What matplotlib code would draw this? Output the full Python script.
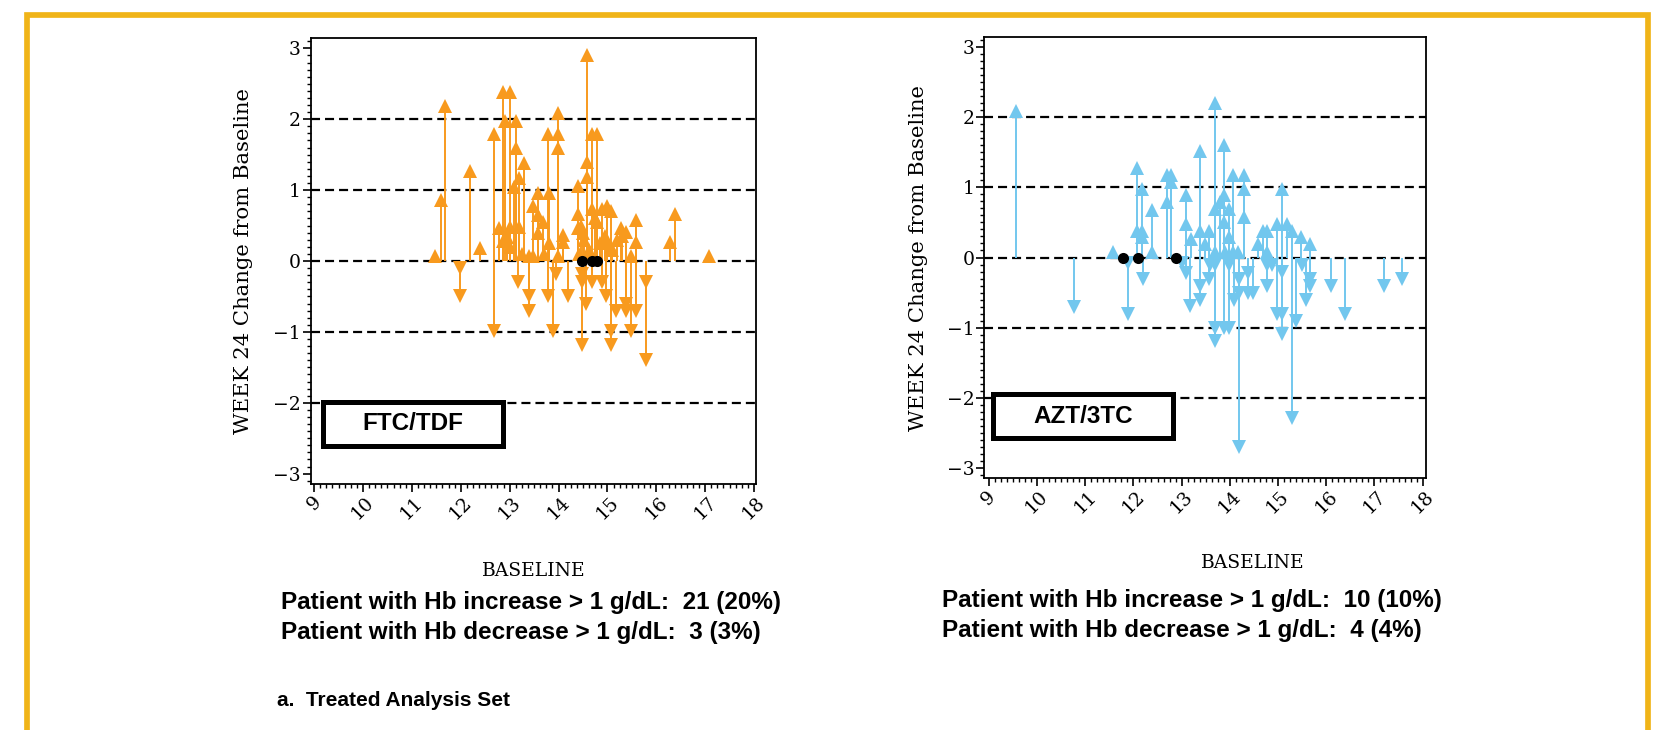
import matplotlib
matplotlib.use("Agg")
import matplotlib.pyplot as plt
from matplotlib.patches import Rectangle
from matplotlib.ticker import MultipleLocator
import numpy as np

plt.rcParams['lines.scale_dashes'] = False

# ---------------- data ----------------
ftc_base = [11.48, 11.59, 11.67, 12.18, 12.40, 12.69, 12.78, 12.86, 13.00, 12.90, 13.12, 13.12, 13.30, 13.19,
            13.09, 12.86, 13.00, 13.00, 13.20, 12.95, 13.39, 13.48, 13.48, 13.58, 13.58, 13.68, 13.58, 13.80,
            13.78, 13.99, 13.99, 13.99, 13.80, 13.99, 14.09, 14.09, 14.39, 14.39, 14.39, 14.50, 14.59, 14.59,
            14.59, 14.69, 14.78, 14.69, 14.88, 14.99, 15.07, 14.78, 14.99, 15.07, 15.28, 15.38, 15.59, 15.59,
            15.48, 16.28, 16.38, 17.08, 14.45, 14.52, 14.62, 14.75, 14.85, 14.95, 15.10, 15.20, 15.30, 14.42,
            13.25, 13.70,
            11.99, 11.99, 12.67, 13.18, 13.39, 13.39, 13.78, 13.88, 13.95, 14.19, 14.48, 14.48, 14.48, 14.56,
            14.69, 14.88, 14.97, 15.07, 15.07, 15.18, 15.38, 15.38, 15.48, 15.59, 15.78, 15.78,
            14.48, 14.68, 14.78]
ftc_chg = [0.07, 0.86, 2.19, 1.27, 0.18, 1.79, 0.46, 2.38, 2.38, 1.98, 1.98, 1.59, 1.38, 1.17,
           1.05, 0.28, 0.48, 0.20, 0.48, 0.34, 0.07, 0.07, 0.77, 0.96, 0.65, 0.55, 0.39, 0.96,
           1.79, 1.79, 2.09, 1.59, 0.26, 0.07, 0.36, 0.27, 1.06, 0.66, 0.46, 0.39, 2.90, 1.39,
           1.18, 1.79, 1.79, 0.74, 0.74, 0.77, 0.70, 0.55, 0.27, 0.20, 0.46, 0.41, 0.58, 0.27,
           0.07, 0.27, 0.67, 0.07, 0.50, 0.30, 0.15, 0.60, 0.25, 0.35, 0.15, 0.30, 0.35, 0.10,
           0.10, 0.10,
           -0.10, -0.50, -0.99, -0.30, -0.50, -0.70, -0.50, -0.99, -0.18, -0.50, -0.18, -0.30, -1.19, -0.60,
           -0.30, -0.30, -0.50, -0.99, -1.19, -0.70, -0.60, -0.70, -0.99, -0.70, -0.30, -1.39,
           0.0, 0.0, 0.0]

azt_base = [9.57, 11.57, 12.08, 12.08, 12.18, 12.18, 12.18, 12.39, 12.39, 12.69, 12.78, 12.78, 12.69, 13.10,
            13.10, 13.19, 13.38, 13.38, 13.48, 13.57, 13.70, 13.88, 13.70, 13.79, 13.88, 13.88, 13.98, 13.98,
            13.70, 14.07, 14.29, 14.29, 14.29, 14.18, 14.07, 14.59, 14.68, 14.78, 14.78, 15.09, 14.98, 15.19,
            15.28, 15.47, 15.67, 13.90,
            10.77, 11.89, 11.89, 12.19, 13.00, 13.09, 13.17, 13.38, 13.38, 13.57, 13.69, 13.69, 13.69, 13.88,
            13.98, 14.09, 14.19, 14.19, 14.19, 14.38, 14.38, 14.48, 14.78, 14.78, 14.88, 14.98, 15.09, 15.09,
            15.09, 15.28, 15.38, 15.49, 15.59, 15.67, 15.67, 16.09, 16.39, 17.19, 17.58, 13.98, 13.59,
            11.79, 12.10, 12.89]
azt_chg = [2.09, 0.08, 1.28, 0.38, 0.98, 0.38, 0.29, 0.67, 0.08, 1.17, 1.17, 1.08, 0.79, 0.89,
           0.48, 0.27, 1.51, 0.38, 0.19, 0.38, 2.20, 1.60, 0.69, 0.79, 0.89, 0.50, 0.69, 0.29,
           0.08, 1.17, 1.17, 0.98, 0.57, 0.08, 0.08, 0.19, 0.38, 0.38, 0.08, 0.98, 0.48, 0.48,
           0.38, 0.29, 0.19, 0.08,
           -0.70, -0.08, -0.80, -0.31, -0.08, -0.22, -0.69, -0.40, -0.60, -0.31, -0.11, -1.00, -1.19, -1.00,
           -1.00, -0.60, -0.31, -2.69, -0.50, -0.22, -0.50, -0.50, -0.11, -0.40, -0.11, -0.80, -0.80, -0.20,
           -1.09, -2.29, -0.90, -0.11, -0.60, -0.31, -0.40, -0.40, -0.80, -0.40, -0.31, -0.11, -0.11,
           0.0, 0.0, 0.0]

x_ticks = [9, 10, 11, 12, 13, 14, 15, 16, 17, 18]
y_ticks = [-3, -2, -1, 0, 1, 2, 3]
ref_lines = [-2, -1, 0, 1, 2]

groups = ["FTC/TDF", "AZT/3TC"]
stats_inc = ["Patient with Hb increase > 1 g/dL:  21 (20%)", "Patient with Hb increase > 1 g/dL:  10 (10%)"]
stats_dec = ["Patient with Hb decrease > 1 g/dL:  3 (3%)", "Patient with Hb decrease > 1 g/dL:  4 (4%)"]
footnote = "a.  Treated Analysis Set"

# ---------------- figure ----------------
W, H = 1660, 730
fig = plt.figure(figsize=(W / 100, H / 100), dpi=100)
fig.patch.set_facecolor("white")

def fx(px):
    return px / W

def fy(py):
    return 1 - py / H

# gold frame
fig.patches.append(Rectangle((fx(27.2), fy(760)), fx(1648.3) - fx(27.2), fy(14.8) - fy(760),
                             transform=fig.transFigure, fill=False, edgecolor="#F0B418",
                             linewidth=4.1, zorder=0))

panels = [
    dict(rect=(310.7, 38, 756, 484), xlim=(8.93, 18.04), ylim=(-3.146, 3.146),
         base=ftc_base, chg=ftc_chg, color="#F89A1E",
         box=(323.2, 401.5, 502.5, 446.5), ylab_x=243, xlab=(534, 571),
         stats_x=281, stats_y=(603, 632)),
    dict(rect=(984, 37.3, 1426, 478.3), xlim=(8.9, 18.07), ylim=(-3.142, 3.134),
         base=azt_base, chg=azt_chg, color="#72C7EE",
         box=(993.2, 394.2, 1172.5, 438.2), ylab_x=918, xlab=(1253, 563),
         stats_x=942, stats_y=(601, 630)),
]

serif = "DejaVu Serif"

for i, p in enumerate(panels):
    x0, y0, x1, y1 = p["rect"]
    ax = fig.add_axes([fx(x0), fy(y1), fx(x1) - fx(x0), fy(y0) - fy(y1)])
    ax.set_xlim(*p["xlim"])
    ax.set_ylim(*p["ylim"])
    for ln in ref_lines:
        ax.axhline(ln, color="black", linewidth=1.6, linestyle=(0, (6.5, 3.6)), zorder=1)
    base = np.array(p["base"])
    chg = np.array(p["chg"])
    nz = chg != 0
    ax.vlines(base[nz], 0, chg[nz], color=p["color"], linewidth=1.4, zorder=2)
    up = chg > 0
    dn = chg < 0
    ax.plot(base[up], chg[up], linestyle="none", marker="^", markersize=10,
            color=p["color"], markeredgewidth=0, zorder=3)
    ax.plot(base[dn], chg[dn], linestyle="none", marker="v", markersize=10,
            color=p["color"], markeredgewidth=0, zorder=3)
    ax.plot(base[~nz], chg[~nz], linestyle="none", marker="o", markersize=8,
            color="black", markeredgewidth=0, zorder=4)

    for s in ax.spines.values():
        s.set_linewidth(1.3)
    ax.set_xticks(x_ticks)
    ax.set_yticks(y_ticks)
    ax.xaxis.set_minor_locator(MultipleLocator(0.125))
    ax.yaxis.set_minor_locator(MultipleLocator(0.1))
    ax.set_xticklabels([str(t) for t in x_ticks], rotation=45, ha="center", va="top",
                       fontfamily=serif, fontsize=13.5)
    ax.set_yticklabels([("\u2212" + str(-t)) if t < 0 else str(t) for t in y_ticks],
                       fontfamily=serif, fontsize=13.5)
    ax.tick_params(axis="both", which="major", direction="out", length=6, width=1.2)
    ax.tick_params(axis="both", which="minor", direction="out", length=3, width=1.0)
    ax.tick_params(axis="x", which="major", pad=0.5)
    ax.tick_params(axis="y", which="major", pad=1.0)

    # group label box
    bx0, by0, bx1, by1 = p["box"]
    ax.add_patch(Rectangle((fx(bx0), fy(by1)), fx(bx1) - fx(bx0), fy(by0) - fy(by1),
                           transform=fig.transFigure, facecolor="white", edgecolor="black",
                           linewidth=3.6, zorder=10))
    ax.text(fx((bx0 + bx1) / 2), fy((by0 + by1) / 2), groups[i], transform=fig.transFigure,
            ha="center", va="center", fontsize=17.5, fontweight="bold",
            fontfamily="Liberation Sans", zorder=11)

    fig.text(fx(p["ylab_x"]), fy((y0 + y1) / 2), "WEEK 24 Change from Baseline", rotation=90,
             ha="center", va="center", fontsize=15.2, fontfamily=serif)
    fig.text(fx(p["xlab"][0]), fy(p["xlab"][1]), "BASELINE", ha="center", va="center",
             fontsize=13.5, fontfamily=serif)
    fig.text(fx(p["stats_x"]), fy(p["stats_y"][0]), stats_inc[i], ha="left", va="center",
             fontsize=17.5, fontweight="bold", fontfamily="Liberation Sans")
    fig.text(fx(p["stats_x"]), fy(p["stats_y"][1]), stats_dec[i], ha="left", va="center",
             fontsize=17.5, fontweight="bold", fontfamily="Liberation Sans")

fig.text(fx(277), fy(701), footnote, ha="left", va="center", fontsize=15,
         fontweight="bold", fontfamily="Liberation Sans")

fig.savefig("out.png", dpi=100, facecolor="white")
